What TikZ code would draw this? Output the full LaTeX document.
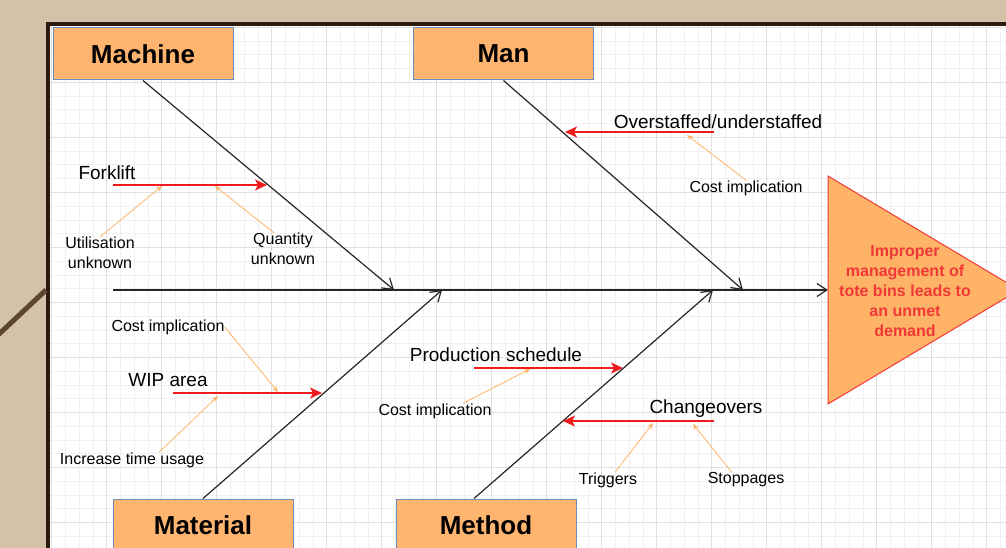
\documentclass[tikz,border=0pt]{standalone}
\usepackage{fontspec}
\setmainfont{Liberation Sans}
\usetikzlibrary{arrows.meta, positioning, calc}
\definecolor{paper}{HTML}{D2C3A8}
\definecolor{frame}{HTML}{2B1A0E}
\definecolor{wood}{HTML}{5E4531}
\definecolor{gridminor}{HTML}{F0F0F0}
\definecolor{gridmajor}{HTML}{E0E0E0}
\definecolor{boxfill}{HTML}{FFB570}
\definecolor{boxblue}{HTML}{6C8EBF}
\definecolor{effectfill}{HTML}{FFB366}
\definecolor{effectred}{HTML}{F03838}
\definecolor{causered}{HTML}{EE1C1C}
\definecolor{hintorange}{HTML}{FFB366}
\begin{document}
\begin{tikzpicture}[x=1pt, y=-1pt,
  every node/.style={inner sep=0pt, font=\fontsize{19}{22}\selectfont},
  catbox/.style={draw=boxblue, fill=boxfill, line width=1pt, minimum width=180pt, minimum height=52pt, font=\fontsize{26}{30}\selectfont\bfseries},
  bone/.style={draw=black!85, line width=1.2pt, -{Straight Barb[length=10pt,width=13pt]}},
  cause/.style={draw=causered, line width=1.4pt, -{Stealth[length=12pt,width=11pt,inset=3pt]}},
  hint/.style={draw=hintorange, line width=0.8pt, -{Stealth[length=6pt,width=5pt]}},
  sublbl/.style={font=\fontsize{16}{20}\selectfont, align=center},
  minorline/.style={draw=gridminor, line width=0.6pt},
  majorline/.style={draw=gridmajor, line width=0.7pt}]
\useasboundingbox (0,0) rectangle (1006,548);
\fill[paper] (0,0) rectangle (1006,548);
\fill[white] (48,24) rectangle (1012,560);
% grid
\begin{scope}
\clip (50,26) rectangle (1006,548);
\foreach \gx in {0,...,70} \draw[minorline] ({51.7+13.75*\gx},26) -- ({51.7+13.75*\gx},548);
\foreach \gy in {0,...,38} \draw[minorline] (50,{27.3+13.75*\gy}) -- (1006,{27.3+13.75*\gy});
\foreach \gx in {0,...,17} \draw[majorline] ({51.7+55*\gx},26) -- ({51.7+55*\gx},548);
\foreach \gy in {0,...,9} \draw[majorline] (50,{27.3+55*\gy}) -- (1006,{27.3+55*\gy});
\end{scope}
\draw[frame, line width=4pt] (48,24) rectangle (1012,560);
\draw[wood, line width=5pt] (-2,335) -- (46,290);

% effect
\draw[fill=effectfill, draw=effectred, line width=1pt] (828,176) -- (1019,290) -- (828,404) -- cycle;
\node[font=\fontsize{16}{20}\selectfont\bfseries, text=effectred, align=center] (effect) at (905,291) {Improper\\management of\\tote bins leads to\\an unmet\\demand};

% categories
\node[catbox] (machine) at (143,54) {Machine};
\node[catbox] (man) at (503.5,54) {Man};
\node[catbox] (material) at (203,525) {Material};
\node[catbox] (method) at (486,525) {Method};

% spine and bones
\coordinate (tail) at (113,290);
\coordinate (head) at (828,290);
\coordinate (j1) at (394,290);
\coordinate (j2) at (442,290);
\coordinate (j3) at (713,290);
\coordinate (j4) at (743,290);
\draw[bone] (tail) -- (head);
\draw[bone] (machine.south) -- (j1);
\draw[bone] (material.north) -- (j2);
\draw[bone] ([xshift=-12pt]method.north) -- (j3);
\draw[bone] (man.south) -- (j4);

% causes
\node (forklift) at (107,173) {Forklift};
\coordinate (fk-a) at (113,185);
\coordinate (fk-b) at (267,185);
\draw[cause] (fk-a) -- (fk-b);
\node (overstaff) at (718,122) {Overstaffed/understaffed};
\coordinate (os-a) at (714,132);
\coordinate (os-b) at (565,132);
\draw[cause] (os-a) -- (os-b);
\node (wip) at (168,380) {WIP area};
\coordinate (wip-a) at (173,393);
\coordinate (wip-b) at (322,393);
\draw[cause] (wip-a) -- (wip-b);
\node (prodsched) at (496,355) {Production schedule};
\coordinate (ps-a) at (474,368);
\coordinate (ps-b) at (623,368);
\draw[cause] (ps-a) -- (ps-b);
\node (changeover) at (706,409) {Changeovers};
\coordinate (co-a) at (714,421);
\coordinate (co-b) at (563,421);
\draw[cause] (co-a) -- (co-b);

% sub-causes
\node[sublbl] (util) at (100,253) {Utilisation\\unknown};
\node[sublbl] (qty) at (283,249) {Quantity\\unknown};
\node[sublbl] (mancost) at (746,188) {Cost implication};
\node[sublbl] (matcost) at (168,327) {Cost implication};
\node[sublbl] (inc) at (132,460) {Increase time usage};
\node[sublbl] (metcost) at (435,411) {Cost implication};
\node[sublbl] (trig) at (608,480) {Triggers};
\node[sublbl] (stop) at (746,480) {Stoppages};
\coordinate (fk-u) at (162,186);
\coordinate (fk-q) at (215,186);
\coordinate (os-c) at (687,135);
\coordinate (wip-c) at (278,392);
\coordinate (wip-i) at (218,396);
\coordinate (ps-c) at (530,369);
\coordinate (co-t) at (653,423);
\coordinate (co-s) at (693,424);
\draw[hint] (util.north) -- (fk-u);
\draw[hint] ([xshift=-9pt]qty.north) -- (fk-q);
\draw[hint] (mancost.north) -- (os-c);
\draw[hint] (matcost.east) -- (wip-c);
\draw[hint] ([xshift=27pt]inc.north) -- (wip-i);
\draw[hint] ([xshift=28pt]metcost.north) -- (ps-c);
\draw[hint] ([xshift=7pt]trig.north) -- (co-t);
\draw[hint] ([xshift=-14pt]stop.north) -- (co-s);
\end{tikzpicture}
\end{document}
